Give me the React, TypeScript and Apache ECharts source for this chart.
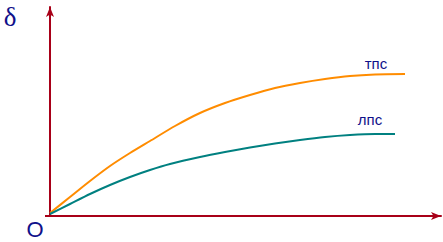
import React, { useEffect, useRef } from "react";
import * as echarts from "echarts";

const tpsX = [0, 20, 40, 60, 80, 100, 125, 150, 175, 200, 225, 250, 275, 300, 325, 355];
const tpsY = [3, 19, 35, 50, 63, 75, 90, 103, 113, 121, 128, 133, 137, 140, 141.5, 142];
const lpsX = [0, 20, 40, 60, 80, 100, 120, 150, 175, 200, 225, 250, 275, 300, 325, 345];
const lpsY = [2, 12, 22, 31, 39, 46, 52, 59, 64, 68.5, 72.5, 76, 79, 81, 82, 82];
const seriesNames = ["тпс", "лпс"];
const axisLabels = ["δ", "O"];

export default function App() {
  const ref = useRef<HTMLDivElement>(null);
  useEffect(() => {
    if (!ref.current) return;
    const chart = echarts.init(ref.current, null, { renderer: "svg" });
    const axisColor = "#a80018";
    const textColor = "#10108a";
    chart.setOption({
      animation: false,
      grid: { left: 50, top: 7, width: 391, height: 209 },
      xAxis: {
        type: "value",
        min: 0,
        max: 391,
        axisLine: {
          show: true,
          lineStyle: { color: axisColor, width: 2 },
          symbol: ["none", "arrow"],
          symbolSize: [6, 10],
        },
        axisTick: { show: false },
        axisLabel: { show: false },
        splitLine: { show: false },
      },
      yAxis: {
        type: "value",
        min: 0,
        max: 209,
        axisLine: {
          show: true,
          lineStyle: { color: axisColor, width: 2 },
          symbol: ["none", "arrow"],
          symbolSize: [6, 10],
        },
        axisTick: { show: false },
        axisLabel: { show: false },
        splitLine: { show: false },
      },
      series: [
        {
          name: seriesNames[0],
          type: "line",
          smooth: 0.25,
          showSymbol: false,
          data: tpsX.map((x, i) => [x, tpsY[i]]),
          lineStyle: { color: "#ff8c00", width: 2 },
          z: 3,
        },
        {
          name: seriesNames[1],
          type: "line",
          smooth: 0.25,
          showSymbol: false,
          data: lpsX.map((x, i) => [x, lpsY[i]]),
          lineStyle: { color: "#008080", width: 2 },
          z: 3,
        },
      ],
      graphic: [
        {
          type: "line",
          shape: { x1: 45, y1: 216, x2: 50, y2: 216 },
          style: { stroke: axisColor, lineWidth: 2 },
        },
        {
          type: "text",
          x: 10,
          y: 17,
          style: {
            text: axisLabels[0],
            font: "27px 'Liberation Serif', serif",
            fill: textColor,
            align: "center",
            verticalAlign: "middle",
          },
        },
        {
          type: "text",
          x: 35,
          y: 229,
          style: {
            text: axisLabels[1],
            font: "22px 'Liberation Sans', Arial, sans-serif",
            fill: textColor,
            align: "center",
            verticalAlign: "middle",
          },
        },
        {
          type: "text",
          x: 376,
          y: 63,
          style: {
            text: seriesNames[0],
            font: "15px 'Liberation Sans', Arial, sans-serif",
            fill: textColor,
            align: "center",
            verticalAlign: "middle",
          },
        },
        {
          type: "text",
          x: 370,
          y: 119,
          style: {
            text: seriesNames[1],
            font: "15px 'Liberation Sans', Arial, sans-serif",
            fill: textColor,
            align: "center",
            verticalAlign: "middle",
          },
        },
      ],
    });
    return () => chart.dispose();
  }, []);
  return <div ref={ref} style={{ width: 443, height: 242, position: "absolute", left: 0, top: 0 }} />;
}
